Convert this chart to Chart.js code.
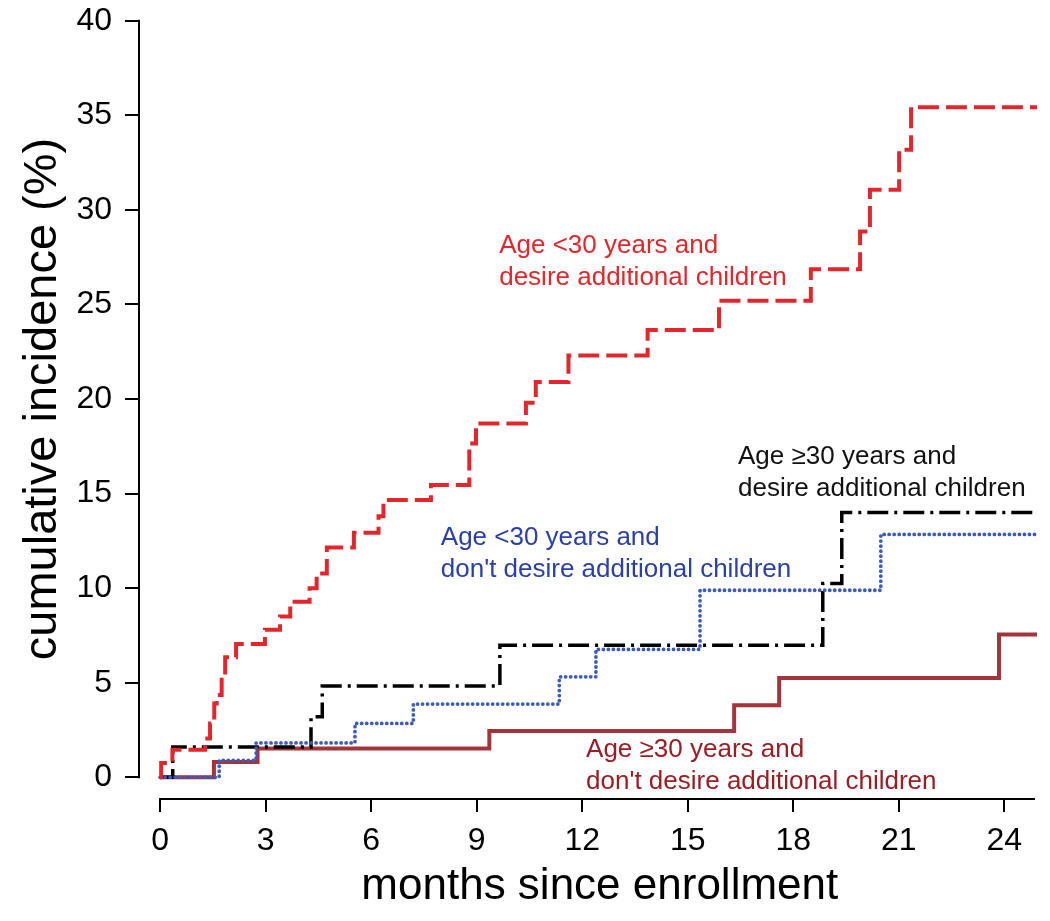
<!DOCTYPE html>
<html>
<head>
<meta charset="utf-8">
<script src="https://cdn.jsdelivr.net/npm/chart.js@4/dist/chart.umd.min.js"></script>
<style>
  html, body { margin: 0; padding: 0; background: #fff; }
  #wrap { width: 1050px; height: 921px; position: relative; }
</style>
</head>
<body>
<div id="wrap"><canvas id="c" width="1050" height="921"></canvas></div>
<script>
// ---- data ----
const xTicks = [0, 3, 6, 9, 12, 15, 18, 21, 24];
const yTicks = [0, 5, 10, 15, 20, 25, 30, 35, 40];

// Age <30 years and desire additional children
const redTimes  = [0, 0.03, 0.35, 1.28, 1.42, 1.54, 1.61, 1.75, 1.85, 2.16, 2.98, 3.41, 3.70, 4.25, 4.45, 4.74, 5.51, 6.21, 6.35, 7.70, 8.79, 8.98, 10.40, 10.68, 11.61, 13.86, 15.89, 18.50, 19.90, 20.18, 21.01, 21.35, 24.93];
const redValues = [0, 0.75, 1.46, 2.05, 2.85, 3.9, 4.35, 5.35, 6.35, 7.05, 7.8, 8.5, 9.28, 10.0, 10.78, 12.15, 12.93, 13.8, 14.66, 15.45, 17.65, 18.7, 19.8, 20.9, 22.3, 23.65, 25.2, 26.86, 28.85, 31.06, 33.18, 35.43, 35.43];

// Age >=30 years and desire additional children
const blackTimes  = [0, 0.36, 4.29, 4.61, 9.66, 18.84, 19.38, 24.93];
const blackValues = [0, 1.6, 3.2, 4.83, 6.98, 10.25, 14.0, 14.0];

// Age <30 years and don't desire additional children
const blueTimes  = [0, 1.68, 2.73, 5.54, 7.20, 11.35, 12.39, 15.35, 20.49, 24.93];
const blueValues = [0, 0.9, 1.82, 2.85, 3.87, 5.31, 6.76, 9.89, 12.84, 12.84];

// Age >=30 years and don't desire additional children
const darkTimes  = [0, 1.53, 2.77, 9.36, 16.32, 17.60, 23.85, 24.93];
const darkValues = [0, 0.81, 1.52, 2.45, 3.81, 5.25, 7.55, 7.55];

const xTitle = 'months since enrollment';
const yTitle = 'cumulative incidence (%)';

// ---- build ----
const FONT = '"Liberation Sans", Arial, Helvetica, sans-serif';
const toPts = (t, v) => t.map((x, i) => ({ x: x, y: v[i] }));

const RED = '#E3262B', BLUE = '#3B5BBF', BLACK = '#000000', DARK = '#A3343A';

const labels = [
  { lines: ['Age <30 years and', 'desire additional children'], x: 9.64, y: 27.72, color: '#E3262B' },
  { lines: ['Age <30 years and', "don't desire additional children"], x: 7.98, y: 12.28, color: '#2A3FA8' },
  { lines: ['Age \u226530 years and', 'desire additional children'], x: 16.43, y: 16.56, color: '#111111' },
  { lines: ['Age \u226530 years and', "don't desire additional children"], x: 12.11, y: 1.09, color: '#9B1C22' }
];

const overlay = {
  id: 'overlay',
  afterDraw(chart) {
    const { ctx, chartArea, scales } = chart;
    const xs = scales.x, ys = scales.y;
    ctx.save();
    // axis lines (R style, detached)
    ctx.strokeStyle = '#000';
    ctx.lineWidth = 2;
    ctx.lineCap = 'butt';
    ctx.beginPath();
    ctx.moveTo(chartArea.left, ys.getPixelForValue(yTicks[0]) + 1);
    ctx.lineTo(chartArea.left, ys.getPixelForValue(yTicks[yTicks.length - 1]) - 1);
    ctx.moveTo(xs.getPixelForValue(xTicks[0]) - 1, chartArea.bottom);
    ctx.lineTo(chartArea.right - 2, chartArea.bottom);
    ctx.stroke();

    // annotations
    ctx.font = '26px ' + FONT;
    ctx.textAlign = 'left';
    ctx.textBaseline = 'alphabetic';
    labels.forEach(l => {
      ctx.fillStyle = l.color;
      const px = xs.getPixelForValue(l.x);
      const py = ys.getPixelForValue(l.y);
      l.lines.forEach((s, i) => ctx.fillText(s, px, py + i * 32));
    });

    // axis titles
    ctx.fillStyle = '#000';
    ctx.textAlign = 'center';
    ctx.font = '44px ' + FONT;
    ctx.fillText(xTitle, xs.getPixelForValue(12.5), 899);
    ctx.font = '47px ' + FONT;
    ctx.translate(56, ys.getPixelForValue(20));
    ctx.rotate(-Math.PI / 2);
    ctx.fillText(yTitle, 0, 0);
    ctx.restore();
  }
};

Chart.defaults.font.family = FONT;

new Chart(document.getElementById('c'), {
  type: 'line',
  data: {
    datasets: [
      { data: toPts(redTimes, redValues), borderColor: RED, borderWidth: 4, borderDash: [21, 7], stepped: 'before', order: 0 },
      { data: toPts(blueTimes, blueValues), borderColor: BLUE, borderWidth: 3.8, borderDash: [0.01, 5], borderCapStyle: 'round', stepped: 'before', order: 1 },
      { data: toPts(blackTimes, blackValues), borderColor: BLACK, borderWidth: 3.5, borderDash: [21, 6, 3, 6], stepped: 'before', order: 2 },
      { data: toPts(darkTimes, darkValues), borderColor: DARK, borderWidth: 4, stepped: 'before', order: 3 }
    ]
  },
  options: {
    responsive: false,
    animation: false,
    events: [],
    layout: { padding: { top: 20.7, right: 13, left: 0, bottom: 0 } },
    elements: { point: { radius: 0 }, line: { fill: false, tension: 0 } },
    plugins: { legend: { display: false }, tooltip: { enabled: false }, title: { display: false } },
    scales: {
      x: {
        type: 'linear',
        position: 'bottom',
        min: -0.6,
        max: 24.93,
        afterBuildTicks: s => { s.ticks = xTicks.map(v => ({ value: v })); },
        afterFit: s => { s.height = 122; s.paddingLeft = 0; s.paddingRight = 0; },
        border: { display: false },
        grid: { display: true, drawOnChartArea: false, drawTicks: true, tickLength: 13, color: '#000', lineWidth: 2 },
        ticks: { color: '#000', font: { size: 32 }, padding: 10, maxRotation: 0, autoSkip: false, callback: v => String(v) }
      },
      y: {
        type: 'linear',
        position: 'left',
        min: -1.147,
        max: 40,
        afterBuildTicks: s => { s.ticks = yTicks.map(v => ({ value: v })); },
        afterFit: s => { s.width = 139; s.paddingTop = 0; s.paddingBottom = 0; },
        border: { display: false },
        grid: { display: true, drawOnChartArea: false, drawTicks: true, tickLength: 14, color: '#000', lineWidth: 2 },
        ticks: { color: '#000', font: { size: 32 }, padding: 13, autoSkip: false, callback: v => String(v) }
      }
    }
  },
  plugins: [overlay]
});
</script>
</body>
</html>
